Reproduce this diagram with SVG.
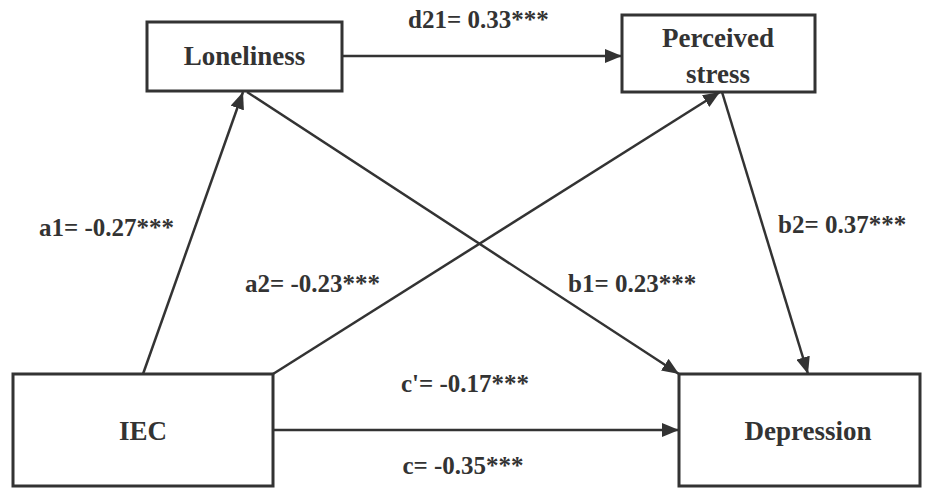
<svg xmlns="http://www.w3.org/2000/svg" width="925" height="490" viewBox="0 0 925 490">
<style>
.box{fill:#fff;stroke:#333;stroke-width:3}
.node{font-family:'Liberation Serif','Times New Roman','DejaVu Serif',serif;font-weight:bold;font-size:27px;fill:#333;text-anchor:middle}
.lab{font-family:'Liberation Serif','Times New Roman','DejaVu Serif',serif;font-weight:bold;font-size:25px;fill:#333}
.edge{stroke:#333;stroke-width:2.5;fill:none;marker-end:url(#ah)}
</style>
<defs>
<marker id="ah" markerUnits="userSpaceOnUse" markerWidth="18" markerHeight="14" refX="17" refY="7" orient="auto">
<path d="M0,0 L17,7 L0,14 z" fill="#333"/>
</marker>
</defs>
<rect width="925" height="490" fill="#fff"/>
<g id="connectors">
<line class="edge" x1="342" y1="56" x2="622" y2="56"/>
<line class="edge" x1="143" y1="374" x2="243" y2="92"/>
<line class="edge" x1="247" y1="92" x2="679" y2="374"/>
<line class="edge" x1="273" y1="374" x2="720" y2="92"/>
<line class="edge" x1="722" y1="92" x2="808" y2="374"/>
<line class="edge" x1="273" y1="430" x2="679" y2="430"/>
</g>
<g id="loneliness">
<rect class="box" x="147" y="22" width="195" height="69"/>
<text class="node" x="244.5" y="65" font-family="Liberation Serif">Loneliness</text>
</g>
<g id="perceived-stress">
<rect class="box" x="622" y="15" width="193" height="77"/>
<text class="node" x="718" y="47">Perceived</text>
<text class="node" x="718" y="83">stress</text>
</g>
<g id="iec">
<rect class="box" x="13" y="374" width="260" height="112"/>
<text class="node" x="143" y="440">IEC</text>
</g>
<g id="depression">
<rect class="box" x="679" y="374" width="241" height="112"/>
<text class="node" x="808" y="440">Depression</text>
</g>
<g id="labels">
<text class="lab" x="408" y="28">d21= 0.33***</text>
<text class="lab" x="39" y="236">a1= -0.27***</text>
<text class="lab" x="245" y="292">a2= -0.23***</text>
<text class="lab" x="568" y="292">b1= 0.23***</text>
<text class="lab" x="778" y="233">b2= 0.37***</text>
<text class="lab" x="465" y="392" text-anchor="middle">c'= -0.17***</text>
<text class="lab" x="463" y="474" text-anchor="middle">c= -0.35***</text>
</g>
</svg>
